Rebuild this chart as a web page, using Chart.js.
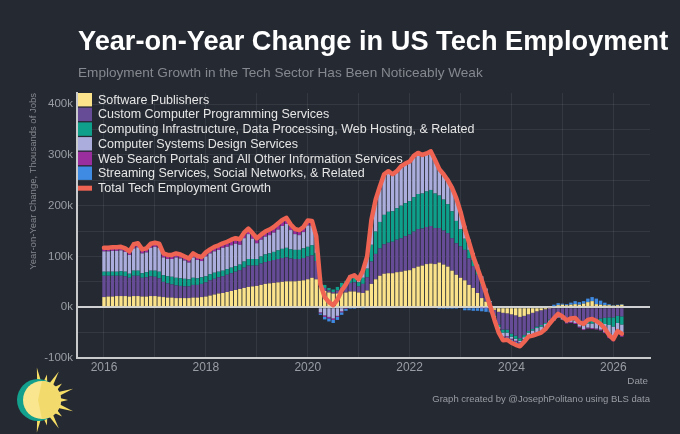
<!DOCTYPE html>
<html>
<head>
<meta charset="utf-8">
<script src="https://cdn.jsdelivr.net/npm/chart.js@4.4.1/dist/chart.umd.min.js"></script>
<style>
  html, body { margin: 0; padding: 0; background: #252932; }
  #wrap { width: 680px; height: 434px; }
</style>
</head>
<body>
<div id="wrap"><canvas id="myChart" width="680" height="434"></canvas></div>
<script>
// monthly y/y change, thousands of jobs, Jan 2016 - Mar 2026
var startYear = 2016;

var softwarePublishers = [
    20, 21, 21, 22, 22, 22, 21, 22, 22, 21, 21, 22,
    22, 21, 20, 19, 19, 18, 18, 18, 18, 19, 19, 20,
    21, 23, 25, 27, 28, 30, 32, 34, 36, 38, 40, 41,
    42, 44, 46, 47, 48, 49, 50, 51, 51, 51, 52, 53,
    55, 58, 55, 40, 32, 29, 27, 27, 28, 29, 31, 31,
    29, 28, 33, 46, 55, 62, 66, 67, 67, 69, 70, 72,
    73, 77, 80, 82, 85, 86, 85, 88, 84, 80, 72, 64,
    58, 53, 44, 38, 28, 18, 11, 3, -5, -9, -11, -12,
    -14, -16, -19, -17, -14, -11, -8, -6, -4, -1, 2, 4,
    5, 4, 5, 6, 5, 7, 10, 12, 6, 5, 4, 4,
    3, 4, 5
];
var customProgramming = [
    42, 41, 41, 40, 40, 39, 37, 40, 40, 37, 38, 39,
    38, 36, 30, 28, 26, 25, 24, 23, 23, 25, 25, 26,
    28, 30, 31, 32, 33, 34, 35, 36, 37, 40, 42, 41,
    40, 42, 43, 44, 45, 46, 47, 47, 45, 44, 43, 44,
    45, 44, 36, 12, 6, 4, 3, 6, 11, 14, 17, 18,
    12, 18, 26, 44, 50, 54, 58, 60, 62, 64, 66, 68,
    70, 72, 74, 73, 73, 74, 71, 68, 67, 66, 64, 62,
    62, 60, 52, 43, 36, 27, 16, 6, -10, -25, -33, -32,
    -38, -40, -42, -38, -33, -32, -30, -29, -27, -23, -19, -16,
    -18, -22, -22, -23, -26, -29, -27, -26, -24, -22, -21, -20,
    -20, -17, -18
];
var computingInfra = [
    8, 8, 8, 8, 9, 9, 8, 10, 10, 9, 10, 11,
    12, 13, 13, 14, 15, 15, 15, 15, 14, 14, 13, 13,
    12, 12, 12, 11, 11, 11, 11, 11, 11, 12, 13, 13,
    13, 14, 15, 15, 16, 17, 18, 19, 18, 18, 18, 19,
    19, 20, 16, 8, 6, 5, 5, 7, 9, 9, 10, 10,
    8, 12, 17, 33, 44, 52, 58, 61, 60, 62, 64, 65,
    66, 68, 69, 69, 70, 71, 68, 64, 61, 57, 53, 44,
    34, 22, 17, 12, 9, 7, 4, 1, -2, -5, -6, -6,
    -6, -6, -5, -4, -3, -3, -3, -3, -2, -2, -2, -1,
    -2, -3, -3, -3, -4, -5, -5, -6, -7, -9, -12, -15,
    -18, -14, -16
];
var systemsDesign = [
    40, 40, 41, 41, 41, 39, 37, 44, 46, 39, 39, 45,
    47, 47, 35, 34, 35, 40, 39, 36, 33, 40, 36, 32,
    39, 41, 42, 43, 45, 44, 44, 44, 39, 46, 49, 40,
    31, 33, 35, 36, 38, 41, 45, 47, 38, 31, 29, 32,
    42, 39, 27, -10, -16, -19, -22, -17, -8, -2, 5, 6,
    7, 14, 22, 45, 57, 64, 76, 77, 70, 70, 75, 75,
    75, 78, 78, 73, 72, 73, 64, 51, 49, 46, 46, 45,
    34, 25, 20, 14, 11, 9, 6, 2, -2, -4, -8, -7,
    -4, -4, -3, -4, -6, -8, -10, -10, -9, -7, -5, -3,
    -4, -5, -4, -5, -8, -9, -8, -9, -11, -13, -16, -22,
    -24, -18, -20
];
var webSearch = [
    5, 5, 5, 5, 5, 5, 5, 6, 6, 6, 6, 6,
    6, 6, 6, 6, 6, 6, 6, 6, 6, 6, 6, 6,
    6, 6, 7, 7, 7, 7, 8, 8, 8, 8, 8, 8,
    7, 7, 7, 8, 8, 8, 8, 8, 7, 7, 7, 7,
    6, 5, 4, -2, -3, -3, -3, -2, -2, -1, 0, 1,
    1, 1, 2, 4, 5, 5, 6, 5, 5, 5, 5, 5,
    5, 5, 5, 5, 5, 5, 4, 4, 4, 4, 3, 3,
    2, 1, 1, 0, 0, -1, -1, -2, -2, -2, -2, -2,
    -2, -2, -2, -1, -1, -1, -1, -1, -1, -1, -1, -1,
    -1, -2, -2, -2, -2, -2, -2, -2, -2, -2, -2, -4,
    -5, -3, -4
];
var streamingSocial = [
    2, 2, 2, 2, 2, 2, 2, 2, 2, 2, 2, 2,
    2, 2, 2, 2, 2, 2, 2, 2, 2, 2, 2, 2,
    2, 2, 2, 2, 2, 3, 3, 3, 3, 3, 3, 3,
    3, 3, 3, 3, 3, 4, 4, 4, 4, 3, 3, 3,
    4, 4, 2, -3, -5, -6, -6, -6, -5, -4, -3, -3,
    -2, -1, 0, 0, 1, 1, -2, -2, -2, -2, -2, -2,
    -2, -2, -2, -2, -2, -2, -2, -3, -3, -3, -3, -3,
    -2, -6, -6, -7, -7, -7, -8, -8, -4, -5, -5, -5,
    -6, -6, -6, -4, -1, -1, -1, -1, 0, 2, 3, 4,
    2, 2, 4, 6, 5, 5, 7, 8, 11, 8, 5, 2,
    1, 1, 1
];
var totalTech = [
    117, 117, 118, 118, 119, 116, 110, 124, 126, 114, 116, 125,
    127, 125, 106, 103, 103, 106, 104, 100, 96, 106, 101, 99,
    108, 114, 119, 122, 126, 129, 133, 136, 134, 147, 155, 146,
    136, 143, 149, 153, 158, 165, 172, 176, 163, 154, 152, 158,
    171, 170, 140, 45, 20, 10, 4, 15, 33, 45, 60, 63,
    55, 72, 100, 172, 212, 238, 262, 268, 262, 268, 278, 283,
    287, 298, 304, 300, 303, 307, 290, 272, 262, 250, 235, 215,
    188, 155, 128, 100, 77, 53, 28, 2, -25, -50, -65, -64,
    -70, -74, -77, -68, -58, -56, -53, -50, -43, -32, -22, -13,
    -18, -26, -22, -21, -30, -33, -25, -23, -27, -33, -42, -55,
    -63, -47, -52
];

var seriesNames = [
    "Software Publishers",
    "Custom Computer Programming Services",
    "Computing Infrastructure, Data Processing, Web Hosting, & Related",
    "Computer Systems Design Services",
    "Web Search Portals and All Other Information Services",
    "Streaming Services, Social Networks, & Related"
];
var totalName = "Total Tech Employment Growth";
var seriesColors = ["#fbe38b", "#664b96", "#0ea08b", "#abaedc", "#9a2e9e", "#3f8be3"];
var totalColor = "#ee6351";

var titleText = "Year-on-Year Change in US Tech Employment";
var subtitleText = "Employment Growth in the Tech Sector Has Been Noticeably Weak";
var yAxisTitle = "Year-on-Year Change, Thousands of Jobs";
var xAxisTitle = "Date";
var creditText = "Graph created by @JosephPolitano using BLS data";

var bg = "#252932";
var greyText = "#9a9da3";

function toPoints(values) {
    return values.map(function (v, i) {
        return { x: startYear + i / 12, y: v };
    });
}

var barSeries = [softwarePublishers, customProgramming, computingInfra, systemsDesign, webSearch, streamingSocial];
var datasets = barSeries.map(function (values, k) {
    return {
        type: "bar",
        label: seriesNames[k],
        data: toPoints(values),
        backgroundColor: seriesColors[k],
        borderWidth: 0,
        barPercentage: 0.8,
        categoryPercentage: 1.0,
    };
});
datasets.push({
    type: "line",
    label: totalName,
    data: toPoints(totalTech),
    borderColor: totalColor,
    backgroundColor: totalColor,
    borderWidth: 4.5,
    pointRadius: 0,
    tension: 0,
    borderJoinStyle: "round",
    borderCapStyle: "round",
    stack: "total",
    order: -1,
});

function drawSun(ctx, cx, cy) {
    ctx.fillStyle = "#f7df66";
    var n = 11;
    for (var k = 0; k < n; k++) {
        var a = -Math.PI * 0.55 + k * (Math.PI * 1.1) / (n - 1);
        var len = k % 2 === 0 ? 33 : 26;
        ctx.beginPath();
        ctx.moveTo(cx + Math.cos(a - 0.13) * 17, cy + Math.sin(a - 0.13) * 17);
        ctx.lineTo(cx + Math.cos(a) * len, cy + Math.sin(a) * len);
        ctx.lineTo(cx + Math.cos(a + 0.13) * 17, cy + Math.sin(a + 0.13) * 17);
        ctx.closePath();
        ctx.fill();
    }
    ctx.fillStyle = "#13a08c";
    ctx.beginPath();
    ctx.arc(cx - 4, cy, 21, 0, Math.PI * 2);
    ctx.fill();
    ctx.fillStyle = "#fae68e";
    ctx.beginPath();
    ctx.arc(cx, cy, 19, 0, Math.PI * 2);
    ctx.fill();
    ctx.fillStyle = "#f3da6c";
    ctx.beginPath();
    ctx.moveTo(cx, cy - 19);
    ctx.lineTo(cx - 4, cy);
    ctx.lineTo(cx, cy + 19);
    ctx.arc(cx, cy, 19, Math.PI / 2, -Math.PI / 2, true);
    ctx.fill();
}

var decor = {
    id: "decor",
    beforeDraw: function (chart) {
        var ctx = chart.ctx;
        ctx.save();
        ctx.fillStyle = bg;
        ctx.fillRect(0, 0, chart.width, chart.height);
        ctx.restore();
    },
    afterDraw: function (chart) {
        var ctx = chart.ctx;
        var area = chart.chartArea;
        var fam = "'Liberation Sans', Arial, Helvetica, sans-serif";
        ctx.save();
        ctx.textBaseline = "alphabetic";
        ctx.textAlign = "left";

        // title + subtitle
        ctx.fillStyle = "#ffffff";
        ctx.font = "bold 27.2px " + fam;
        ctx.fillText(titleText, area.left + 1, 50);
        ctx.fillStyle = "#85888e";
        ctx.font = "13.6px " + fam;
        ctx.fillText(subtitleText, area.left + 1, 77);

        // legend inside the panel
        ctx.font = "12.5px " + fam;
        ctx.textBaseline = "middle";
        var lx = area.left + 1;
        var ly = area.top;
        chart.data.datasets.forEach(function (ds, k) {
            var top = ly + k * 14.7;
            ctx.fillStyle = ds.backgroundColor;
            if (ds.type === "line") {
                ctx.fillRect(lx, top + 4.5, 14, 5);
            } else {
                ctx.fillRect(lx, top, 14, 13.4);
            }
            ctx.fillStyle = "#e6e6e6";
            ctx.fillText(ds.label, lx + 20, top + 7.3);
        });

        // axis name and credit
        ctx.textBaseline = "alphabetic";
        ctx.textAlign = "right";
        ctx.fillStyle = greyText;
        ctx.font = "9.8px " + fam;
        ctx.fillText(xAxisTitle, area.right - 2, 384);
        ctx.font = "9.5px " + fam;
        ctx.fillText(creditText, area.right, 402);

        drawSun(ctx, 42, 400);
        ctx.restore();
    },
};

var ctx = document.getElementById("myChart").getContext("2d");
Chart.defaults.font.family = "'Liberation Sans', Arial, Helvetica, sans-serif";

var myChart = new Chart(ctx, {
    type: "bar",
    data: { datasets: datasets },
    options: {
        responsive: false,
        animation: false,
        layout: { padding: { left: 26, right: 30, top: 93, bottom: 56 } },
        plugins: {
            legend: { display: false },
            tooltip: { enabled: false },
        },
        scales: {
            x: {
                type: "linear",
                stacked: true,
                offset: false,
                min: 2015.47,
                max: 2026.72,
                grid: { color: "rgba(255,255,255,0.07)", drawTicks: false, offset: false },
                border: { display: true, color: "#c9cacc", width: 2 },
                ticks: {
                    stepSize: 1,
                    includeBounds: false,
                    autoSkip: false,
                    maxRotation: 0,
                    padding: 2,
                    color: greyText,
                    font: { size: 12 },
                    callback: function (v) {
                        return v % 2 === 0 ? String(v) : "";
                    },
                },
                afterFit: function (s) {
                    s.height = 20;
                },
            },
            y: {
                stacked: true,
                min: -100,
                max: 422,
                grid: {
                    drawTicks: false,
                    color: function (c) {
                        return c.tick && c.tick.value === 0 ? "#cfd0d2" : "rgba(255,255,255,0.07)";
                    },
                    lineWidth: function (c) {
                        return c.tick && c.tick.value === 0 ? 2 : 1;
                    },
                },
                border: { display: true, color: "#c9cacc", width: 2 },
                ticks: {
                    stepSize: 50,
                    includeBounds: false,
                    padding: 4,
                    color: greyText,
                    font: { size: 11.5 },
                    callback: function (v) {
                        return v % 100 === 0 ? v + "k" : "";
                    },
                },
                title: {
                    display: true,
                    text: yAxisTitle,
                    align: "end",
                    color: "#85888e",
                    font: { size: 9.5 },
                    padding: { top: 2, bottom: 0 },
                },
                afterFit: function (s) {
                    s.width = 51;
                },
            },
        },
    },
    plugins: [decor],
});
</script>
</body>
</html>
